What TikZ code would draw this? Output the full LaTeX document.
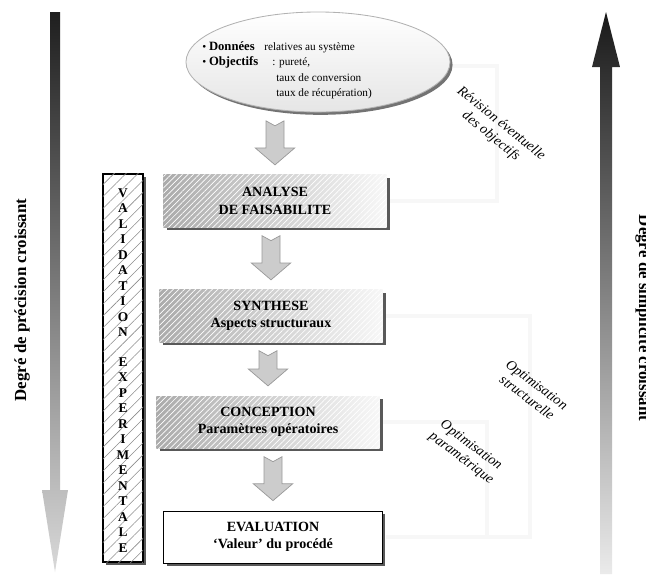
\documentclass[tikz,border=0pt]{standalone}
\usepackage{fontspec}
\setmainfont{Liberation Serif}
\usetikzlibrary{calc,shapes.geometric,shadows,patterns.meta}

\tikzset{
  stage/.style={minimum width=5.575cm, minimum height=1.3cm, inner sep=0pt, align=center,
    font=\bfseries\fontsize{10}{12.5}\selectfont,
    left color=black!33, right color=black!3,
    drop shadow={shadow xshift=2.2pt, shadow yshift=-2.2pt, fill=black!65, opacity=1},
    postaction={pattern={Lines[angle=45, distance=2.8pt, line width=0.5pt]}, pattern color=white}},
  result/.style={minimum width=5.45cm, minimum height=1.3cm, inner sep=0pt, align=center,
    font=\bfseries\fontsize{10}{12.5}\selectfont, draw=black, line width=0.7pt, fill=white,
    drop shadow={shadow xshift=2.2pt, shadow yshift=-2.2pt, fill=black!65, opacity=1}},
  valbox/.style={minimum width=1cm, minimum height=9.7cm, inner sep=0pt, draw=black,
    line width=0.8pt, fill=white,
    drop shadow={shadow xshift=2.2pt, shadow yshift=-2.2pt, fill=black!65, opacity=1},
    postaction={pattern={Lines[angle=45, distance=6pt, line width=0.4pt]}, pattern color=black!45}},
  vletter/.style={font=\bfseries\fontsize{9.5}{9.5}\selectfont, inner sep=0pt},
  goalbox/.style={ellipse, minimum width=6.6cm, minimum height=2.5cm, draw=black!30,
    line width=0.6pt, top color=white, bottom color=black!10,
    drop shadow={shadow xshift=1.8pt, shadow yshift=-2pt, fill=black!55, opacity=1}},
  goaltext/.style={font=\fontsize{8}{9}\selectfont, inner sep=0pt, anchor=base west},
  flowarr/.style={fill=black!20, draw=black!40, line width=0.5pt},
  loopline/.style={draw=black!3, line width=3pt},
  remark/.style={font=\itshape\fontsize{10}{11.5}\selectfont, align=center, inner sep=0pt},
  sidetext/.style={font=\bfseries\fontsize{12}{14}\selectfont, inner sep=0pt}
}

% bloc flèche entre deux étapes
\newcommand{\flowarrow}[2]{%
  \path[flowarr] let \p1=(#1.south), \p2=(#2.north) in
    (\x2-6.4pt,\y1-6pt) -- (\x2,\y1-9.5pt) -- (\x2+6.4pt,\y1-6pt)
    -- (\x2+6.4pt,\y2+19pt) -- (\x2+14pt,\y2+19pt) -- (\x2,\y2+7pt)
    -- (\x2-14pt,\y2+19pt) -- (\x2-6.4pt,\y2+19pt) -- cycle;}

\begin{document}
\begin{tikzpicture}[x=0.025cm, y=-0.025cm]
  \useasboundingbox (0,0) rectangle (646,574);
  \clip (0,0) rectangle (646,574);

  % flèches latérales
  \shade[top color=black!88, bottom color=black!15]
    (50,12) -- (60,12) -- (60,490) -- (68,490) -- (55,572) -- (42,490) -- (50,490) -- cycle;
  \shade[top color=black!90, bottom color=black!8]
    (606,12) -- (620,67) -- (612,67) -- (612,574) -- (600,574) -- (600,67) -- (592,67) -- cycle;
  \node[sidetext, rotate=90] (precision) at (22,300) {Degré de précision croissant};
  \node[sidetext, rotate=-90, anchor=south] (simplicite) at (635,318) {Degré de simplicité croissant};

  % boucles de retour
  \draw[loopline] (450,66) -- (497,66) -- (497,201) -- (390,201);
  \draw[loopline] (385,316) -- (530,316) -- (530,537) -- (386,537);
  \draw[loopline] (382,422) -- (487,422) -- (487,537);

  % données et objectifs
  \node[goalbox] (donnees) at (318,62) {};
  \node[goaltext] (d1) at (202,50) {\textbullet\ \textbf{\fontsize{9}{9}\selectfont Données}};
  \node[goaltext] (d2) at (264,50) {relatives au système};
  \node[goaltext] (o1) at (202,65) {\textbullet\ \textbf{\fontsize{9}{9}\selectfont Objectifs}};
  \node[goaltext] (o2) at (272,65) {: pureté,};
  \node[goaltext] (o3) at (276,81) {taux de conversion};
  \node[goaltext] (o4) at (276,96) {taux de récupération)};

  % étapes
  \node[stage] (analyse) at (275,201) {ANALYSE\\DE FAISABILITE};
  \node[stage] (synthese) at (271,316) {SYNTHESE\\Aspects structuraux};
  \node[stage] (conception) at (268,422) {CONCEPTION\\Paramètres opératoires};
  \node[result] (evaluation) at (273,537) {EVALUATION\\`Valeur' du procédé};

  \flowarrow{donnees}{analyse}
  \flowarrow{analyse}{synthese}
  \flowarrow{synthese}{conception}
  \flowarrow{conception}{evaluation}

  % validation expérimentale
  \node[valbox] (validation) at (123,368) {};
  \foreach \l [count=\i from 0] in {V,A,L,I,D,A,T,I,O,N}
    \node[vletter] (v\i) at (123,193+15.5*\i) {\l};
  \foreach \l [count=\i from 0] in {E,X,P,E,R,I,M,E,N,T,A,L,E}
    \node[vletter] (e\i) at (123,362+15.5*\i) {\l};

  % commentaires
  \node[remark, rotate=-39] (revision) at (496,130) {Révision éventuelle\\des objectifs};
  \node[remark, rotate=-37] (optstruct) at (532,391) {Optimisation\\structurelle};
  \node[remark, rotate=-37] (optparam) at (466,452) {Optimisation\\paramétrique};
\end{tikzpicture}
\end{document}
